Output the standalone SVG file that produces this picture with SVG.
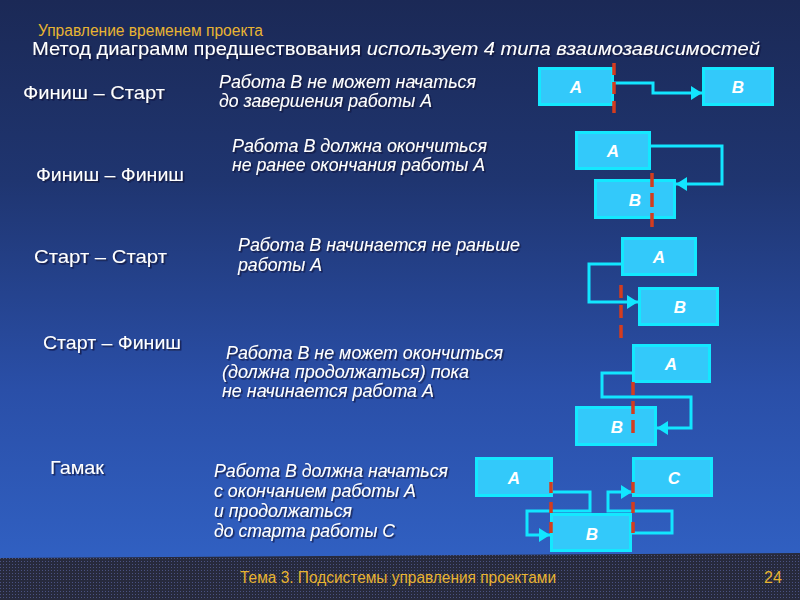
<svg xmlns="http://www.w3.org/2000/svg" width="800" height="600" viewBox="0 0 800 600">
<defs>
<linearGradient id="bg" x1="0" y1="0" x2="0" y2="1">
<stop offset="0" stop-color="#1b2956"/>
<stop offset="0.3" stop-color="#1f3570"/>
<stop offset="0.65" stop-color="#2a4fa8"/>
<stop offset="1" stop-color="#3264c8"/>
</linearGradient>
<pattern id="dots" width="3" height="3" patternUnits="userSpaceOnUse">
<rect width="3" height="3" fill="#272a3c"/>
<rect width="1" height="1" fill="#4a5282"/>
</pattern>
<filter id="sh" x="-5%" y="-30%" width="110%" height="160%">
<feDropShadow dx="1.5" dy="1.5" stdDeviation="0.4" flood-color="#0a1030" flood-opacity="0.75"/>
</filter>
<marker id="arr" markerUnits="userSpaceOnUse" markerWidth="11" markerHeight="14" refX="11" refY="7" orient="auto">
<path d="M0,0 L11,7 L0,14 z" fill="#12e6ff"/>
</marker>
<style>
.box{fill:#33c9fa;stroke:#14e8ff;stroke-width:3}
.bl{font-family:"Liberation Sans",Arial,sans-serif;font-size:17px;font-weight:bold;font-style:italic;fill:#fff;text-anchor:middle}
.con{fill:none;stroke:#12e6ff;stroke-width:3}
.dash{stroke:#d43c1e;stroke-width:3.5;fill:none}
.lab{font-family:"Liberation Sans",Arial,sans-serif;font-size:19px;fill:#fff;filter:url(#sh)}
.desc{font-family:"Liberation Sans",Arial,sans-serif;font-size:18px;font-style:italic;fill:#fff;filter:url(#sh)}
.gold{font-family:"Liberation Sans",Arial,sans-serif;fill:#e8b432}
</style>
</defs>
<rect width="800" height="600" fill="url(#bg)"/>
<polygon points="0,558 800,553 800,600 0,600" fill="url(#dots)"/>

<text class="gold" x="38" y="36" font-size="16" textLength="225" lengthAdjust="spacingAndGlyphs">Управление временем проекта</text>
<text class="lab" x="32" y="55" font-size="21" textLength="728" lengthAdjust="spacingAndGlyphs">Метод диаграмм  предшествования <tspan font-style="italic">использует  4 типа взаимозависимостей</tspan></text>

<g id="labels">
<text class="lab" x="23" y="99" textLength="142" lengthAdjust="spacingAndGlyphs">Финиш  – Старт</text>
<text class="lab" x="36" y="181" textLength="148" lengthAdjust="spacingAndGlyphs">Финиш  – Финиш</text>
<text class="lab" x="34" y="263" textLength="133" lengthAdjust="spacingAndGlyphs">Старт – Старт</text>
<text class="lab" x="43" y="349" textLength="138" lengthAdjust="spacingAndGlyphs">Старт – Финиш</text>
<text class="lab" x="50" y="474" textLength="54" lengthAdjust="spacingAndGlyphs">Гамак</text>
</g>

<g id="descriptions">
<text class="desc" x="219" y="88" textLength="257" lengthAdjust="spacingAndGlyphs">Работа В не может начаться</text>
<text class="desc" x="219" y="107" textLength="213" lengthAdjust="spacingAndGlyphs">до завершения работы А</text>
<text class="desc" x="232" y="152" font-size="17" textLength="255" lengthAdjust="spacingAndGlyphs">Работа В должна окончиться</text>
<text class="desc" x="232" y="171" font-size="17" textLength="253" lengthAdjust="spacingAndGlyphs">не ранее окончания работы А</text>
<text class="desc" x="238" y="251" textLength="282" lengthAdjust="spacingAndGlyphs">Работа В начинается не раньше</text>
<text class="desc" x="238" y="271" textLength="84" lengthAdjust="spacingAndGlyphs">работы А</text>
<text class="desc" x="226" y="359" textLength="277" lengthAdjust="spacingAndGlyphs">Работа В не может окончиться</text>
<text class="desc" x="222" y="378" textLength="247" lengthAdjust="spacingAndGlyphs">(должна продолжаться) пока</text>
<text class="desc" x="222" y="397" textLength="212" lengthAdjust="spacingAndGlyphs">не начинается работа А</text>
<text class="desc" x="214" y="477" textLength="234" lengthAdjust="spacingAndGlyphs">Работа В должна начаться</text>
<text class="desc" x="214" y="497" textLength="202" lengthAdjust="spacingAndGlyphs">с окончанием работы А</text>
<text class="desc" x="214" y="517" textLength="138" lengthAdjust="spacingAndGlyphs">и продолжаться</text>
<text class="desc" x="214" y="537" textLength="181" lengthAdjust="spacingAndGlyphs">до старта работы С</text>
</g>

<g id="connectors">
<path class="con" d="M614,83 H653 V93 H702" marker-end="url(#arr)"/>
<path class="con" d="M651,146 H722 V184 H676" marker-end="url(#arr)"/>
<path class="con" d="M621,264 H589 V302 H638" marker-end="url(#arr)"/>
<path class="con" d="M632,373 H602 V397 H691 V428 H657" marker-end="url(#arr)"/>
<path class="con" d="M553,492 H590 V511 H527 V535 H550" marker-end="url(#arr)"/>
<path class="con" d="M632,533 H672 V511 H608 V492 H632" marker-end="url(#arr)"/>
</g>

<g id="r1a"><rect class="box" x="539.5" y="68.5" width="73" height="36"/><text class="bl" x="576" y="93">A</text></g>
<g id="r1b"><rect class="box" x="703.5" y="68.5" width="69" height="36"/><text class="bl" x="738" y="93">B</text></g>
<g id="r2a"><rect class="box" x="576.5" y="132.5" width="73" height="36"/><text class="bl" x="613" y="157">A</text></g>
<g id="r2b"><rect class="box" x="595.5" y="180.5" width="79" height="37"/><text class="bl" x="635" y="206">B</text></g>
<g id="r3a"><rect class="box" x="622.5" y="238.5" width="73" height="36"/><text class="bl" x="659" y="263">A</text></g>
<g id="r3b"><rect class="box" x="639.5" y="288.5" width="78" height="36"/><text class="bl" x="680" y="313">B</text></g>
<g id="r4a"><rect class="box" x="633.5" y="345.5" width="76" height="36"/><text class="bl" x="671" y="370">A</text></g>
<g id="r4b"><rect class="box" x="576.5" y="407.5" width="79" height="37"/><text class="bl" x="617" y="433">B</text></g>
<g id="r5a"><rect class="box" x="476.5" y="458.5" width="75" height="37"/><text class="bl" x="514" y="484">A</text></g>
<g id="r5c"><rect class="box" x="633.5" y="458.5" width="78" height="37"/><text class="bl" x="674" y="484">C</text></g>
<g id="r5b"><rect class="box" x="551.5" y="514.5" width="79" height="36"/><text class="bl" x="592" y="540">B</text></g>

<g id="timelines">
<line class="dash" x1="614" y1="63" x2="614" y2="113" stroke-dasharray="12 7"/>
<line class="dash" x1="652" y1="173" x2="652" y2="228" stroke-dasharray="14 6"/>
<line class="dash" x1="621" y1="285" x2="621" y2="340" stroke-dasharray="13 7"/>
<line class="dash" x1="633" y1="382" x2="633" y2="434" stroke-dasharray="13 6"/>
<line class="dash" x1="551" y1="482" x2="551" y2="535" stroke-dasharray="11 9" stroke-width="4"/>
<line class="dash" x1="633" y1="482" x2="633" y2="535" stroke-dasharray="11 9" stroke-width="4"/>
</g>

<text class="gold" x="240" y="583" font-size="16" textLength="316" lengthAdjust="spacingAndGlyphs">Тема 3. Подсистемы управления проектами</text>
<text class="gold" x="764" y="583" font-size="16">24</text>
</svg>
